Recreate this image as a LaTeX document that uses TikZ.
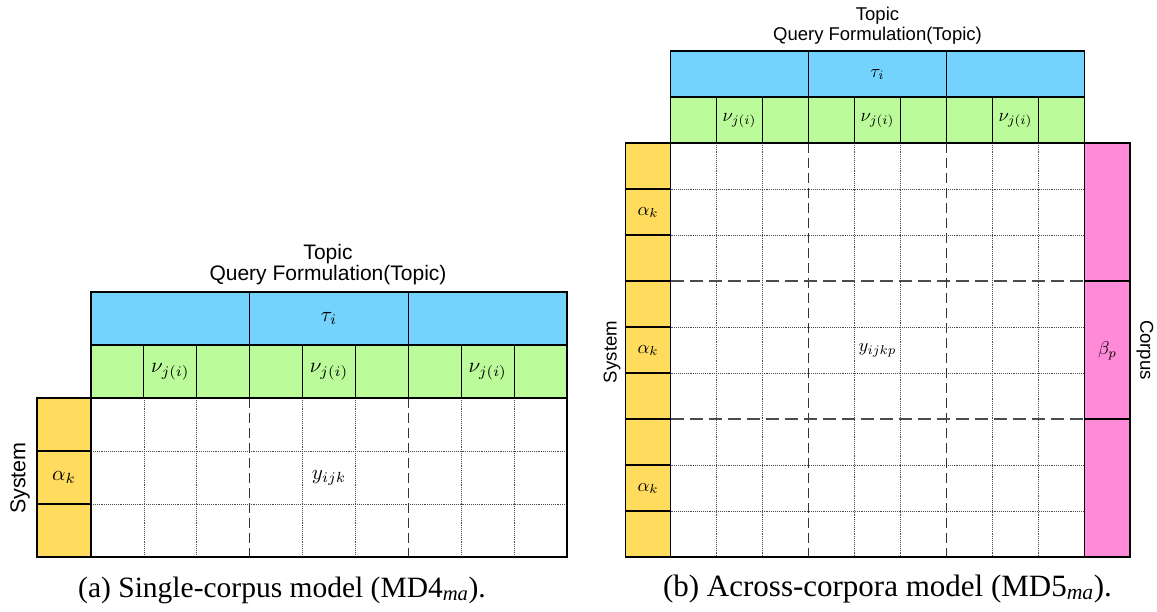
\documentclass[tikz,border=0pt]{standalone}
\usepackage{fontspec}
\setmainfont{Liberation Serif}
\newfontfamily\lblfont{Liberation Sans}
\definecolor{bluec}{RGB}{116,211,253}
\definecolor{greenc}{RGB}{188,251,154}
\definecolor{yellowc}{RGB}{255,220,94}
\definecolor{pinkc}{RGB}{255,138,216}
\tikzset{
  solidln/.style={draw=black, line width=1.1pt},
  dotln/.style={draw=black!70, line width=0.7pt, dash pattern=on 0.7pt off 1.2pt},
  dashlnL/.style={draw=black!80, line width=1.2pt, dash pattern=on 10pt off 5pt},
  dashlnR/.style={draw=black!70, line width=1.2pt, dash pattern=on 13pt off 6pt},
  titletxtL/.style={font=\lblfont\fontsize{21}{25}\selectfont, inner sep=0pt, anchor=base},
  titletxtR/.style={font=\lblfont\fontsize{18.5}{22}\selectfont, inner sep=0pt, anchor=base},
  sidetxtL/.style={font=\lblfont\fontsize{21.5}{25}\selectfont, inner sep=0pt},
  sidetxtR/.style={font=\lblfont\fontsize{18.6}{22}\selectfont, inner sep=0pt},
  mathL/.style={inner sep=0pt, scale=2.1},
  mathR/.style={inner sep=0pt, scale=1.85},
  captxtA/.style={font=\fontsize{29.5}{34}\selectfont, inner sep=0pt, anchor=base},
  captxtB/.style={font=\fontsize{31}{36}\selectfont, inner sep=0pt, anchor=base},
}
\begin{document}
\begin{tikzpicture}[x=1pt,y=-1pt]
\useasboundingbox (0,0) rectangle (1157,612);
% ================= Left diagram =================
\def\cw{52.89}
\fill[bluec] (91,292) rectangle (567,345);
\fill[greenc] (91,345) rectangle (567,398);
\fill[yellowc] (37,398) rectangle (91,557);
\foreach \i in {1,2,4,5,7,8} \draw[dotln] (91+\i*\cw,398) -- (91+\i*\cw,557);
\foreach \yy in {451,504} \draw[dotln] (91,\yy) -- (567,\yy);
\foreach \i in {3,6} \draw[dashlnL] (91+\i*\cw,398) -- (91+\i*\cw,557);
\draw[solidln] (91,292) rectangle (567,345);
\foreach \i in {3,6} \draw[solidln] (91+\i*\cw,292) -- (91+\i*\cw,345);
\draw[solidln] (91,345) rectangle (567,398);
\foreach \i in {1,...,8} \draw[solidln] (91+\i*\cw,345) -- (91+\i*\cw,398);
\draw[solidln] (37,398) rectangle (91,557);
\foreach \yy in {451,504} \draw[solidln] (37,\yy) -- (91,\yy);
\draw[solidln] (91,557) -- (567,557) -- (567,398);
\node[titletxtL] (topicL) at (328,259.5) {Topic};
\node[titletxtL] (qfL) at (328,281) {Query Formulation(Topic)};
\node[mathL] (tauL) at (329,318.5) {$\tau_i$};
\node[mathL] (nuL1) at (91+1.5*\cw,371.5) {$\nu_{j(i)}$};
\node[mathL] (nuL2) at (91+4.5*\cw,371.5) {$\nu_{j(i)}$};
\node[mathL] (nuL3) at (91+7.5*\cw,371.5) {$\nu_{j(i)}$};
\node[mathL] (alphaL) at (64,477.5) {$\alpha_k$};
\node[mathL] (yL) at (329,477.5) {$y_{ijk}$};
\node[sidetxtL, rotate=90] (sysL) at (20,478) {System};
\node[captxtA] (capA) at (282,597) {(a) Single-corpus model (MD4\textsubscript{\textit{ma}}).};
% ================= Right diagram =================
\def\rw{46}
\fill[bluec] (670.5,51) rectangle (1084.5,97);
\fill[greenc] (670.5,97) rectangle (1084.5,143);
\fill[yellowc] (625.5,143) rectangle (670.5,557);
\fill[pinkc] (1084.5,143) rectangle (1130,557);
\foreach \i in {1,2,4,5,7,8} {
  \draw[dotln] (670.5+\i*\rw,143) -- (670.5+\i*\rw,557);
  \draw[dotln] (670.5,143+\i*\rw) -- (1084.5,143+\i*\rw);
}
\foreach \i in {3,6} {
  \draw[dashlnL] (670.5+\i*\rw,143) -- (670.5+\i*\rw,557);
  \draw[dashlnR] (670.5,143+\i*\rw) -- (1084.5,143+\i*\rw);
}
\draw[solidln] (670.5,51) rectangle (1084.5,97);
\foreach \i in {3,6} \draw[solidln] (670.5+\i*\rw,51) -- (670.5+\i*\rw,97);
\draw[solidln] (670.5,97) rectangle (1084.5,143);
\foreach \i in {1,...,8} \draw[solidln] (670.5+\i*\rw,97) -- (670.5+\i*\rw,143);
\draw[solidln] (625.5,143) rectangle (670.5,557);
\foreach \i in {1,...,8} \draw[solidln] (625.5,143+\i*\rw) -- (670.5,143+\i*\rw);
\draw[solidln] (1084.5,143) rectangle (1130,557);
\foreach \i in {3,6} \draw[solidln] (1084.5,143+\i*\rw) -- (1130,143+\i*\rw);
\draw[solidln] (670.5,557) -- (1084.5,557);
\node[titletxtR] (topicR) at (877.5,20.5) {Topic};
\node[titletxtR] (qfR) at (877.5,40.5) {Query Formulation(Topic)};
\node[mathR] (tauR) at (877.5,74.5) {$\tau_i$};
\node[mathR] (nuR1) at (670.5+1.5*\rw,120.5) {$\nu_{j(i)}$};
\node[mathR] (nuR2) at (670.5+4.5*\rw,120.5) {$\nu_{j(i)}$};
\node[mathR] (nuR3) at (670.5+7.5*\rw,120.5) {$\nu_{j(i)}$};
\node[mathR] (alphaR1) at (648,212.5) {$\alpha_k$};
\node[mathR] (alphaR2) at (648,350.5) {$\alpha_k$};
\node[mathR] (alphaR3) at (648,488.5) {$\alpha_k$};
\node[mathR] (yR) at (877.5,350.5) {$y_{ijkp}$};
\node[mathR] (betaR) at (1107.5,350.5) {$\beta_p$};
\node[sidetxtR, rotate=90] (sysR) at (612,352) {System};
\node[sidetxtR, rotate=-90] (corpR) at (1145,350) {Corpus};
\node[captxtB] (capB) at (887.5,596) {(b) Across-corpora model (MD5\textsubscript{\textit{ma}}).};
\end{tikzpicture}
\end{document}
